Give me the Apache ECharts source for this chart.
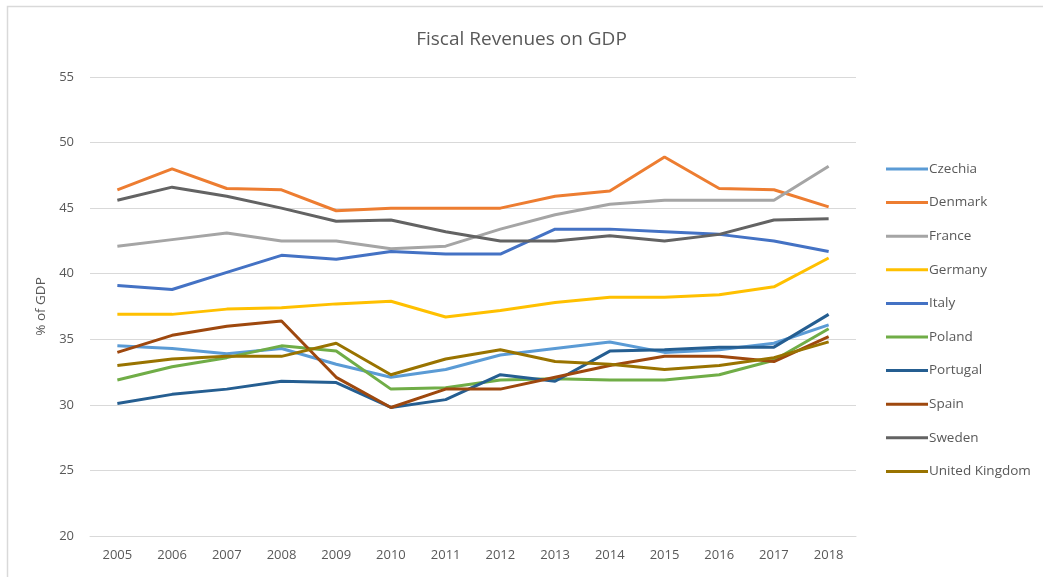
<!DOCTYPE html>
<html>
<head>
<meta charset="utf-8">
<script src="https://cdn.jsdelivr.net/npm/echarts@6/dist/echarts.min.js"></script>
<style>
html,body{margin:0;padding:0;background:#fff;}
#chart{width:1043px;height:577px;}
</style>
</head>
<body>
<div id="chart"></div>
<script>
var years = ['2005','2006','2007','2008','2009','2010','2011','2012','2013','2014','2015','2016','2017','2018'];
var czechia  = [34.5, 34.3, 33.9, 34.3, 33.1, 32.1, 32.7, 33.8, 34.3, 34.8, 34.0, 34.2, 34.7, 36.1];
var denmark  = [46.4, 48.0, 46.5, 46.4, 44.8, 45.0, 45.0, 45.0, 45.9, 46.3, 48.9, 46.5, 46.4, 45.1];
var france   = [42.1, 42.6, 43.1, 42.5, 42.5, 41.9, 42.1, 43.4, 44.5, 45.3, 45.6, 45.6, 45.6, 48.2];
var germany  = [36.9, 36.9, 37.3, 37.4, 37.7, 37.9, 36.7, 37.2, 37.8, 38.2, 38.2, 38.4, 39.0, 41.2];
var italy    = [39.1, 38.8, 40.1, 41.4, 41.1, 41.7, 41.5, 41.5, 43.4, 43.4, 43.2, 43.0, 42.5, 41.7];
var poland   = [31.9, 32.9, 33.6, 34.5, 34.1, 31.2, 31.3, 31.9, 32.0, 31.9, 31.9, 32.3, 33.4, 35.8];
var portugal = [30.1, 30.8, 31.2, 31.8, 31.7, 29.8, 30.4, 32.3, 31.8, 34.1, 34.2, 34.4, 34.4, 36.9];
var spain    = [34.0, 35.3, 36.0, 36.4, 32.1, 29.8, 31.2, 31.2, 32.1, 33.0, 33.7, 33.7, 33.3, 35.2];
var sweden   = [45.6, 46.6, 45.9, 45.0, 44.0, 44.1, 43.2, 42.5, 42.5, 42.9, 42.5, 43.0, 44.1, 44.2];
var uk       = [33.0, 33.5, 33.7, 33.7, 34.7, 32.3, 33.5, 34.2, 33.3, 33.1, 32.7, 33.0, 33.6, 34.8];

var seriesNames  = ['Czechia','Denmark','France','Germany','Italy','Poland','Portugal','Spain','Sweden','United Kingdom'];
var seriesData   = [czechia, denmark, france, germany, italy, poland, portugal, spain, sweden, uk];
var seriesColors = ['#5B9BD5','#ED7D31','#A5A5A5','#FFC000','#4472C4','#70AD47','#255E91','#9E480E','#636363','#997300'];

var FONT = '"Open Sans", "Liberation Sans", sans-serif';
var chart = echarts.init(document.getElementById('chart'), null, {renderer:'canvas'});

var series = seriesNames.map(function(n, i){
  return {
    name: n, type: 'line', data: seriesData[i],
    symbol: 'none', smooth: false,
    lineStyle: {width: 3, color: seriesColors[i]},
    itemStyle: {color: seriesColors[i]}
  };
});

chart.setOption({
  animation: false,
  backgroundColor: '#ffffff',
  title: {
    text: 'Fiscal Revenues on GDP',
    left: 'center', top: 25,
    textStyle: {fontFamily: FONT, fontSize: 19, fontWeight: 'normal', color: '#595959'}
  },
  graphic: [{
    type: 'rect', left: 5, top: 4, silent: true,
    shape: {width: 1100, height: 700},
    style: {fill: 'none', stroke: '#d9d9d9', lineWidth: 1.5}
  }],
  legend: {
    orient: 'vertical', left: 881, top: 157,
    itemWidth: 42, itemHeight: 3, itemGap: 19.6,
    icon: 'rect',
    textStyle: {fontFamily: FONT, fontSize: 13.5, color: '#595959', padding: [0,0,0,-4]},
    data: seriesNames
  },
  grid: {left: 90, right: 187, top: 77, bottom: 41},
  xAxis: {
    type: 'category', data: years, boundaryGap: true,
    axisLine: {lineStyle: {color: '#d9d9d9', width: 1}},
    axisTick: {show: false},
    axisLabel: {fontFamily: FONT, fontSize: 13, color: '#595959', margin: 13}
  },
  yAxis: {
    type: 'value', min: 20, max: 55, interval: 5,
    name: '% of GDP', nameLocation: 'middle', nameGap: 37, nameRotate: 90,
    nameTextStyle: {fontFamily: FONT, fontSize: 13.5, color: '#595959'},
    axisLine: {show: false}, axisTick: {show: false},
    axisLabel: {fontFamily: FONT, fontSize: 13, color: '#595959', margin: 16},
    splitLine: {lineStyle: {color: '#d9d9d9', width: 1}}
  },
  series: series
});
</script>
</body>
</html>
